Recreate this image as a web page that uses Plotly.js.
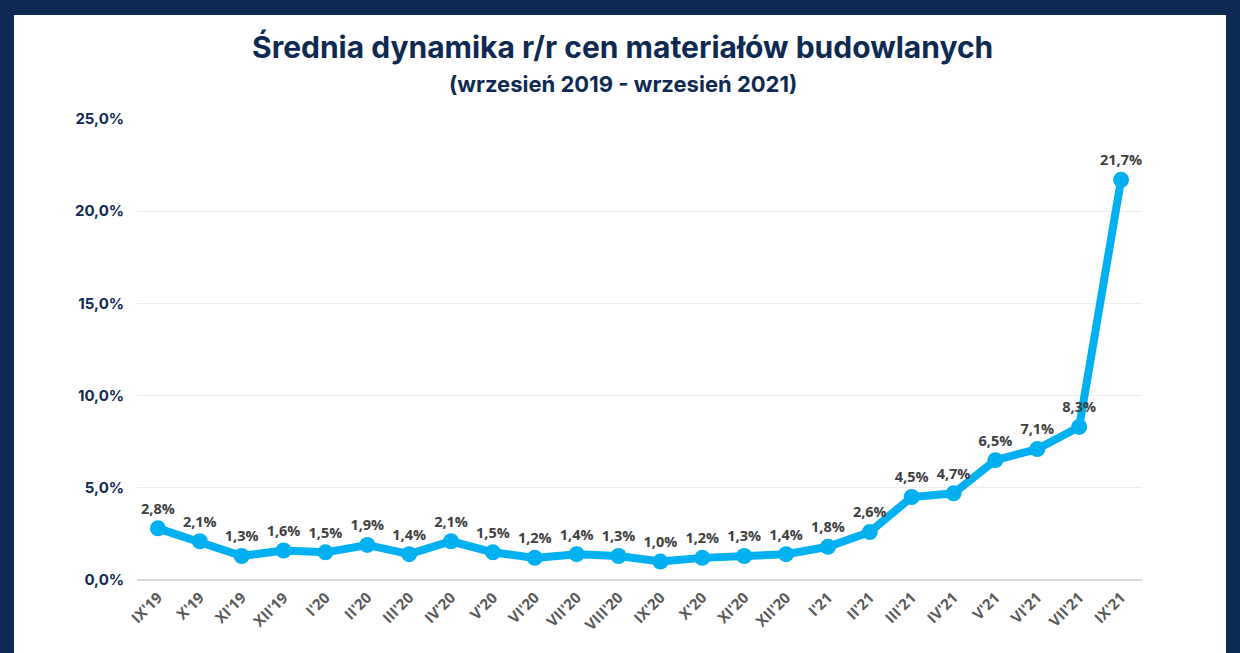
<!DOCTYPE html>
<html><head><meta charset="utf-8">
<script src="https://cdn.plot.ly/plotly-3.0.1.min.js"></script>
<style>
html,body{margin:0;padding:0;background:#0e2a52;width:1240px;height:653px;overflow:hidden;}
#frame{position:absolute;left:14px;top:15px;width:1212px;height:638px;background:#fff;}
#chart{position:absolute;left:0;top:0;width:1240px;height:653px;}
</style></head>
<body>
<div id="frame"></div>
<div id="chart"></div>
<script>
const categories = ["IX'19","X'19","XI'19","XII'19","I'20","II'20","III'20","IV'20","V'20","VI'20","VII'20","VIII'20","IX'20","X'20","XI'20","XII'20","I'21","II'21","III'21","IV'21","V'21","VI'21","VII'21","IX'21"];
const values = [2.8,2.1,1.3,1.6,1.5,1.9,1.4,2.1,1.5,1.2,1.4,1.3,1.0,1.2,1.3,1.4,1.8,2.6,4.5,4.7,6.5,7.1,8.3,21.7];
const yTicks = [0,5,10,15,20,25];
const yTickText = ["0,0%","5,0%","10,0%","15,0%","20,0%","25,0%"];
const labels = values.map(v => v.toFixed(1).replace('.', ',') + '%');
const titleText = "Średnia dynamika r/r cen materiałów budowlanych";
const subtitleText = "(wrzesień 2019 - wrzesień 2021)";

const trace = {
  type:'scatter', mode:'lines+markers+text',
  x: categories, y: values, text: labels,
  textposition:'top center',
  textfont:{family:'Open Sans, sans-serif', size:14.5, color:'#404040', weight:700},
  line:{color:'#00b0f0', width:8},
  marker:{color:'#00b0f0', size:16},
  cliponaxis:false, hoverinfo:'none'
};
const layout = {
  width:1240, height:653,
  paper_bgcolor:'rgba(0,0,0,0)', plot_bgcolor:'rgba(0,0,0,0)',
  margin:{l:137, r:98, t:119, b:73},
  showlegend:false,
  xaxis:{type:'category', range:[-0.5,23.5], tickangle:-45, showgrid:false, zeroline:false,
    showline:false, ticks:'', ticklabelstandoff:5,
    tickfont:{family:'Open Sans, sans-serif', size:15, color:'#595959', weight:700}},
  yaxis:{range:[0,25], tickvals:yTicks, ticktext:yTickText, showgrid:true, gridcolor:'#ececec', gridwidth:1,
    zeroline:true, zerolinecolor:'#d9d9d9', zerolinewidth:1.5, showline:false, ticks:'', ticklabelstandoff:12,
    tickfont:{family:'Inter, sans-serif', size:15, color:'#0e2a52', weight:700}},
  annotations:[
    {text:titleText, xref:'paper', yref:'paper', x:0.5, y:1, xanchor:'center', yanchor:'bottom',
     xshift:-17, yshift:52, showarrow:false, font:{family:'Inter, sans-serif', size:30, color:'#0e2a52', weight:700}},
    {text:subtitleText, xref:'paper', yref:'paper', x:0.5, y:1, xanchor:'center', yanchor:'bottom',
     xshift:-17, yshift:20, showarrow:false, font:{family:'Inter, sans-serif', size:22, color:'#0e2a52', weight:700}}
  ]
};
Plotly.newPlot('chart',[trace],layout,{staticPlot:true, displayModeBar:false});
</script>
</body></html>
